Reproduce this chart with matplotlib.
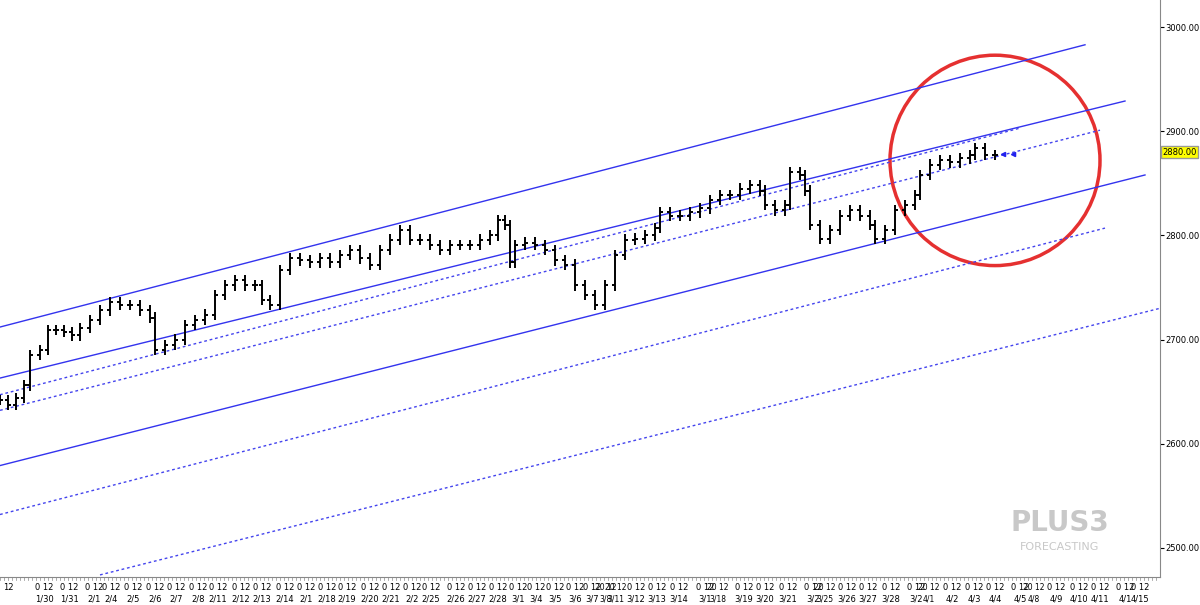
import matplotlib
matplotlib.use("Agg")
import matplotlib.pyplot as plt
from matplotlib.patches import Ellipse
import numpy as np

bar_x = [0,8,16,24,30,40,48,56,64,72,80,90,100,110,120,130,140,150,155,165,175,185,195,205,215,225,235,245,255,262,270,280,290,300,310,320,330,340,350,360,370,380,390,400,410,420,430,440,450,460,470,480,490,498,505,510,515,525,535,545,555,565,575,585,595,605,615,625,635,645,655,660,670,680,690,700,710,720,730,740,750,760,765,775,785,790,800,805,810,820,830,840,850,860,870,875,885,895,905,915,920,930,940,950,960,970,975,985,995]
closes = [2642,2637,2644,2656,2685,2690,2709,2709,2707,2704,2711,2719,2728,2736,2733,2733,2728,2721,2690,2695,2700,2714,2719,2724,2743,2752,2757,2752,2752,2738,2733,2767,2778,2776,2774,2778,2774,2781,2786,2778,2772,2786,2796,2805,2796,2796,2791,2786,2791,2791,2791,2796,2800,2815,2810,2774,2791,2793,2791,2786,2776,2772,2752,2743,2733,2752,2781,2796,2797,2800,2807,2822,2819,2819,2822,2826,2834,2839,2839,2845,2848,2843,2829,2824,2829,2861,2858,2843,2810,2797,2805,2819,2824,2819,2810,2797,2805,2824,2829,2839,2858,2868,2872,2870,2874,2877,2884,2877,2877]

# channel lines: (x0, price0, x1, price1)
solid_lines = [(0,2712,1085,2983),(0,2663,1125,2929),(0,2579,1145,2858)]
dashed_lines = [(0,2647,1020,2903),(0,2632,1100,2901),(0,2532,1105,2807),(100,2474,1160,2730)]

yticks = [2500,2600,2700,2800,2900,3000]
last_price = 2880

date_pos = [44,69,94,111,133,155,176,198,218,241,262,285,306,327,347,370,391,412,431,456,477,498,518,536,555,575,592,603,613,636,657,679,705,715,744,765,788,813,822,847,868,891,916,926,952,974,995,1020,1031,1056,1079,1100,1125,1140]
date_lbl = ["1/30","1/31","2/1","2/4","2/5","2/6","2/7","2/8","2/11","2/12","2/13","2/14","2/1","2/18","2/19","2/20","2/21","2/2","2/25","2/26","2/27","2/28","3/1","3/4","3/5","3/6","3/7","3/8","3/11","3/12","3/13","3/14","3/1","3/18","3/19","3/20","3/21","3/2","3/25","3/26","3/27","3/28","3/2","4/1","4/2","4/3","4/4","4/5","4/8","4/9","4/10","4/11","4/1","4/15"]

fig = plt.figure(figsize=(12,6.05), dpi=100)
ax = fig.add_axes([0, 1-577/605, 1160/1200, 577/605])
ax.set_xlim(0,1160)
ax.set_ylim(2472, 3026)

for (x0,p0,x1,p1) in solid_lines:
    ax.plot([x0,x1],[p0,p1],color="#3333ee",lw=1.0)
for (x0,p0,x1,p1) in dashed_lines:
    ax.plot([x0,x1],[p0,p1],color="#4444ee",lw=1.0,ls=(0,(2,2)))

opens = [closes[0]] + closes[:-1]
for x,o,c in zip(bar_x,opens,closes):
    hi = max(o,c)+5; lo = min(o,c)-5
    ax.vlines(x,lo,hi,color="black",lw=1.4)
    ax.hlines(o,x-3,x,color="black",lw=1.4)
    ax.hlines(c,x,x+3,color="black",lw=1.4)

ax.plot([1003,1013],[2878,2878],ls="none",marker="<",ms=3,color="#2222ee")

ax.add_patch(Ellipse((995,2872),210,202,fill=False,ec="#e53030",lw=2.5))

ax.yaxis.tick_right()
ax.set_yticks(yticks)
ax.set_yticklabels([f"{v:.2f}" for v in yticks],fontsize=6)
ax.tick_params(axis="y",length=3,pad=1)
ax.set_xticks([])
for s in ["top","left"]:
    ax.spines[s].set_visible(False)
ax.spines["right"].set_color("#888888")
ax.spines["bottom"].set_color("#888888")
ax.text(1.002, (last_price-2472)/(3026-2472), f"{last_price:.2f}", transform=ax.transAxes,
        fontsize=6, va="center", ha="left", bbox=dict(fc="#ffff00",ec="#999999",pad=1.2))

xt = ax.get_xaxis_transform()
prev = -100
for x,l in zip(date_pos,date_lbl):
    if x - prev >= 15:
        ax.text(x,-0.018,"0 12",transform=xt,fontsize=6,ha="center",va="center",clip_on=False)
        ax.text(x,-0.038,l,transform=xt,fontsize=6,ha="center",va="center",clip_on=False)
    else:
        ax.text(x+3,-0.018,"20 12",transform=xt,fontsize=5.5,ha="center",va="center",clip_on=False)
        ax.text(x+3,-0.038,l,transform=xt,fontsize=5.5,ha="center",va="center",clip_on=False)
    prev = x
ax.text(8,-0.018,"12",transform=xt,fontsize=6,ha="center",va="center",clip_on=False)
for x in range(0,1160,4):
    ax.plot([x,x],[0,-0.006],transform=xt,color="#888888",lw=0.5,clip_on=False)

ax.text(1060,2510,"PLUS3",fontsize=20,fontweight="bold",color="#c8c8c8",ha="center",va="bottom")
ax.text(1060,2496,"FORECASTING",fontsize=8,color="#c8c8c8",ha="center",va="bottom")

fig.savefig("out.png",dpi=100)
